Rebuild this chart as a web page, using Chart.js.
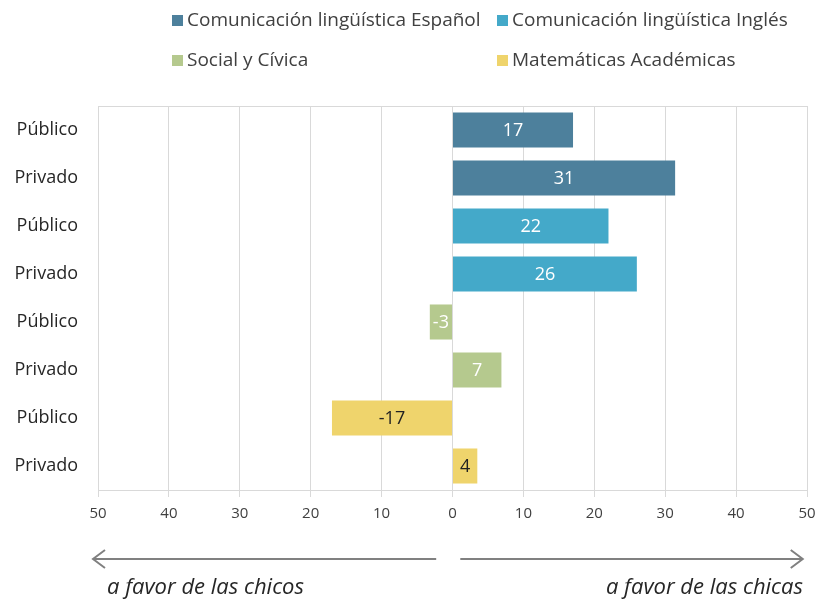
<!DOCTYPE html>
<html>
<head>
<meta charset="utf-8">
<script src="https://cdn.jsdelivr.net/npm/chart.js@4"></script>
<style>
  body { margin: 0; background: #fff; }
  #wrap { width: 818px; height: 601px; }
</style>
</head>
<body>
<div id="wrap"><canvas id="myChart" width="818" height="601"></canvas></div>
<script>
// categorias (filas) y valores por serie: [Público, Privado]
const categorias = ['Público', 'Privado', 'Público', 'Privado', 'Público', 'Privado', 'Público', 'Privado'];
const series = ['Comunicación lingüística Español', 'Comunicación lingüística Inglés', 'Social y Cívica', 'Matemáticas Académicas'];
const espanol = [17, 31.4];
const ingles = [22, 26];
const social = [-3.2, 6.9];
const matematicas = [-17, 3.5];
const ticksX = [-50, -40, -30, -20, -10, 0, 10, 20, 30, 40, 50];

const colores = ['#4d809c', '#44a9c9', '#b5c98e', '#efd46c'];
const colorTexto = ['#ffffff', '#ffffff', '#ffffff', '#222222'];
const FUENTE = '"Open Sans", sans-serif';

// cada serie ocupa dos filas, el resto va vacío
function fila(vals, idx) {
  const d = categorias.map(() => null);
  d[idx * 2] = vals[0];
  d[idx * 2 + 1] = vals[1];
  return d;
}

const todos = [espanol, ingles, social, matematicas];
const datasets = todos.map((v, i) => ({
  label: series[i],
  data: fila(v, i),
  backgroundColor: colores[i],
  borderWidth: 0,
  grouped: false,
  barPercentage: 0.73,
  categoryPercentage: 1,
  etiquetaColor: colorTexto[i]
}));

// leyenda en dos columnas como en el original
const leyenda = {
  id: 'leyenda',
  afterDraw(chart) {
    const ctx = chart.ctx;
    const cols = [172, 497];
    const rows = [21, 61];
    ctx.save();
    ctx.font = '19px ' + FUENTE;
    ctx.textBaseline = 'middle';
    chart.data.datasets.forEach((ds, i) => {
      const x = cols[i % 2];
      const y = rows[Math.floor(i / 2)];
      ctx.fillStyle = ds.backgroundColor;
      ctx.fillRect(x, y - 6, 11, 11);
      ctx.fillStyle = '#404040';
      ctx.fillText(ds.label, x + 15, y);
    });
    ctx.restore();
  }
};

// etiquetas de valor dentro de cada barra
const etiquetas = {
  id: 'etiquetas',
  afterDatasetsDraw(chart) {
    const ctx = chart.ctx;
    ctx.save();
    ctx.font = '18px ' + FUENTE;
    ctx.textAlign = 'center';
    ctx.textBaseline = 'middle';
    chart.data.datasets.forEach((ds, i) => {
      chart.getDatasetMeta(i).data.forEach((bar, j) => {
        const v = ds.data[j];
        if (v === null) return;
        ctx.fillStyle = ds.etiquetaColor;
        ctx.fillText(String(Math.round(v)), (bar.x + bar.base) / 2, bar.y + 1);
      });
    });
    ctx.restore();
  }
};

// marco del área y flechas de abajo
const marco = {
  id: 'marco',
  beforeDatasetsDraw(chart) {
    const a = chart.chartArea;
    const ctx = chart.ctx;
    ctx.save();
    ctx.strokeStyle = '#d9d9d9';
    ctx.lineWidth = 1;
    ctx.beginPath();
    ctx.moveTo(a.left + 0.5, a.bottom);
    ctx.lineTo(a.left + 0.5, a.top + 0.5);
    ctx.lineTo(a.right, a.top + 0.5);
    ctx.stroke();
    ctx.restore();
  },
  afterDraw(chart) {
    const ctx = chart.ctx;
    const x = chart.scales.x;
    const y = 559;
    ctx.save();
    ctx.strokeStyle = '#808080';
    ctx.lineWidth = 2;
    const izq = x.getPixelForValue(-50) - 5, medIzq = x.getPixelForValue(-2.3);
    const der = x.getPixelForValue(49.4), medDer = x.getPixelForValue(1.1);
    ctx.beginPath();
    ctx.moveTo(medIzq, y); ctx.lineTo(izq, y);
    ctx.moveTo(izq + 12, y - 9); ctx.lineTo(izq, y); ctx.lineTo(izq + 12, y + 9);
    ctx.moveTo(medDer, y); ctx.lineTo(der, y);
    ctx.moveTo(der - 12, y - 9); ctx.lineTo(der, y); ctx.lineTo(der - 12, y + 9);
    ctx.stroke();
    ctx.font = 'italic 22px ' + FUENTE;
    ctx.fillStyle = '#262626';
    ctx.textBaseline = 'alphabetic';
    ctx.textAlign = 'left';
    ctx.fillText('a favor de las chicos', 107, 594);
    ctx.textAlign = 'right';
    ctx.fillText('a favor de las chicas', 803, 594);
    ctx.restore();
  }
};

const ctx = document.getElementById('myChart');
new Chart(ctx, {
  type: 'bar',
  data: { labels: categorias, datasets: datasets },
  options: {
    indexAxis: 'y',
    responsive: false,
    animation: false,
    layout: { padding: { top: 106, right: 11, left: 0, bottom: 0 } },
    plugins: {
      legend: { display: false },
      tooltip: { enabled: false }
    },
    scales: {
      x: {
        min: -50,
        max: 50,
        afterBuildTicks: (s) => { s.ticks = ticksX.map(v => ({ value: v })); },
        afterFit: (s) => { s.height = 111; s.paddingLeft = 0; s.paddingRight = 0; },
        ticks: {
          callback: (v) => Math.abs(v),
          color: '#404040',
          font: { family: FUENTE, size: 15 },
          padding: 8,
          maxRotation: 0
        },
        grid: { color: '#d9d9d9', tickLength: 7, drawTicks: true },
        border: { color: '#d9d9d9' }
      },
      y: {
        afterFit: (s) => { s.width = 98; },
        ticks: {
          color: '#262626',
          font: { family: FUENTE, size: 18 },
          padding: 12
        },
        grid: { display: false },
        border: { display: false }
      }
    }
  },
  plugins: [leyenda, etiquetas, marco]
});
</script>
</body>
</html>
